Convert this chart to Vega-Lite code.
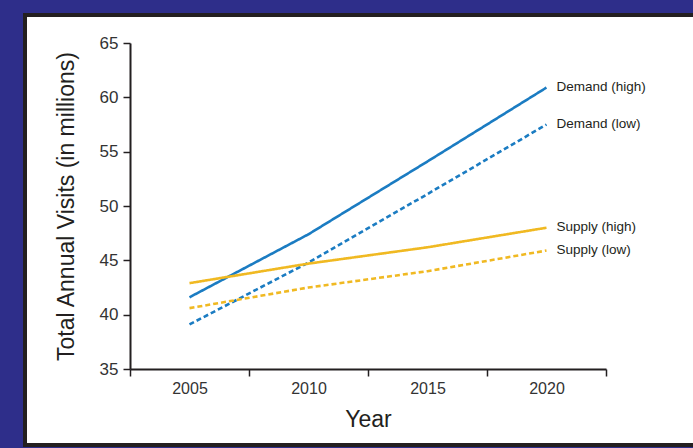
{
  "$schema": "https://vega.github.io/schema/vega-lite/v6.json",
  "width": 668,
  "height": 430,
  "autosize": {"type": "none"},
  "padding": {"left": 25, "top": 15, "right": 0, "bottom": 3},
  "background": "#2e2e8a",
  "config": {
    "view": {"fill": "white", "stroke": "#231f20", "strokeWidth": 4, "strokeDash": [668, 430, 1098]},
    "font": "Liberation Sans"
  },
  "data": {
    "values": [
      {"year": 2005, "series": "Demand (high)", "value": 41.6},
      {"year": 2010, "series": "Demand (high)", "value": 47.4},
      {"year": 2015, "series": "Demand (high)", "value": 54.1},
      {"year": 2020, "series": "Demand (high)", "value": 60.9},
      {"year": 2005, "series": "Demand (low)", "value": 39.1},
      {"year": 2010, "series": "Demand (low)", "value": 44.8},
      {"year": 2015, "series": "Demand (low)", "value": 51.1},
      {"year": 2020, "series": "Demand (low)", "value": 57.5},
      {"year": 2005, "series": "Supply (high)", "value": 42.9},
      {"year": 2010, "series": "Supply (high)", "value": 44.7},
      {"year": 2015, "series": "Supply (high)", "value": 46.2},
      {"year": 2020, "series": "Supply (high)", "value": 48.0},
      {"year": 2005, "series": "Supply (low)", "value": 40.6},
      {"year": 2010, "series": "Supply (low)", "value": 42.5},
      {"year": 2015, "series": "Supply (low)", "value": 44.0},
      {"year": 2020, "series": "Supply (low)", "value": 45.9}
    ]
  },
  "encoding": {
    "x": {
      "field": "year",
      "type": "quantitative",
      "scale": {"domain": [2002.5, 2022.5], "range": [105, 581], "nice": false, "zero": false},
      "axis": {
        "values": [2002.5, 2007.5, 2012.5, 2017.5, 2022.5],
        "labelExpr": "datum.value > 2020 ? '' : toString(datum.value + 2.5)",
        "labelOffset": 59.5,
        "labelFlush": false,
        "labelOverlap": false,
        "offset": -76,
        "grid": false,
        "domainColor": "#231f20",
        "domainWidth": 2,
        "tickColor": "#231f20",
        "tickWidth": 1.5,
        "tickSize": 7,
        "labelPadding": 4,
        "labelFont": "Liberation Sans",
        "labelFontSize": 16,
        "labelColor": "#333333",
        "title": "Year",
        "titleFont": "Liberation Sans",
        "titleFontSize": 23,
        "titleFontWeight": "normal",
        "titleColor": "#231f20",
        "titlePadding": 12
      }
    },
    "y": {
      "field": "value",
      "type": "quantitative",
      "scale": {"domain": [35, 65], "range": [354, 28], "nice": false, "zero": false},
      "axis": {
        "values": [35, 40, 45, 50, 55, 60, 65],
        "offset": -105,
        "grid": false,
        "domainColor": "#231f20",
        "domainWidth": 2,
        "tickColor": "#231f20",
        "tickWidth": 1.5,
        "tickSize": 7,
        "labelPadding": 5,
        "labelFont": "Liberation Sans",
        "labelFontSize": 17,
        "labelColor": "#333333",
        "title": "Total Annual Visits (in millions)",
        "titleFont": "Liberation Sans",
        "titleFontSize": 23,
        "titleFontWeight": "normal",
        "titleColor": "#231f20",
        "titlePadding": 21
      }
    }
  },
  "layer": [
    {
      "mark": {"type": "line", "strokeWidth": 2.6},
      "encoding": {
        "color": {
          "field": "series",
          "type": "nominal",
          "scale": {
            "domain": ["Demand (high)", "Demand (low)", "Supply (high)", "Supply (low)"],
            "range": ["#1b7cc2", "#1b7cc2", "#f0b922", "#f0b922"]
          },
          "legend": null
        },
        "strokeDash": {
          "field": "series",
          "type": "nominal",
          "scale": {
            "domain": ["Demand (high)", "Demand (low)", "Supply (high)", "Supply (low)"],
            "range": [[1, 0], [5, 3], [1, 0], [5, 3]]
          },
          "legend": null
        }
      }
    },
    {
      "transform": [{"filter": "datum.year == 2020"}],
      "mark": {"type": "text", "align": "left", "baseline": "middle", "dx": 10, "dy": -1, "fontSize": 13.5, "color": "#231f20"},
      "encoding": {
        "text": {"field": "series", "type": "nominal"}
      }
    }
  ]
}
